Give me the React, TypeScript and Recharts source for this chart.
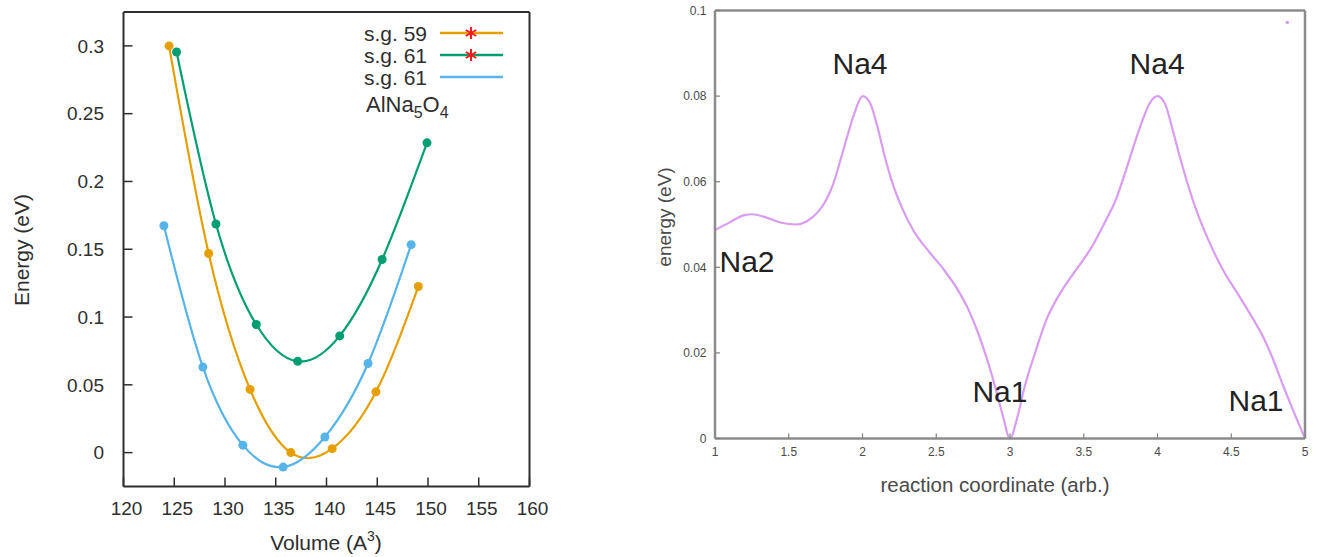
import React from 'react';
import { LineChart, Line, XAxis, YAxis, ReferenceDot } from 'recharts';

const FONT = '"Liberation Sans", Arial, Helvetica, sans-serif';

// ---------- Left panel: Energy vs Volume ----------
const volumeTicks = [120, 125, 130, 135, 140, 145, 150, 155, 160];
const energyTicks = [0, 0.05, 0.1, 0.15, 0.2, 0.25, 0.3];

const sg59Volume = [124.49, 128.39, 132.47, 136.48, 140.56, 144.87, 149.05];
const sg59Energy = [0.3, 0.1469, 0.0466, 0.0, 0.0029, 0.0448, 0.1225];

const sg61StarVolume = [125.23, 129.11, 133.08, 137.16, 141.3, 145.48, 149.9];
const sg61StarEnergy = [0.2955, 0.1686, 0.0945, 0.0673, 0.0861, 0.1424, 0.2285];

const sg61Volume = [123.98, 127.82, 131.76, 135.73, 139.84, 144.09, 148.34];
const sg61Energy = [0.1673, 0.0631, 0.0055, -0.0107, 0.0115, 0.0657, 0.1534];

const seriesNames = ['s.g. 59', 's.g. 61', 's.g. 61'];
const seriesColors = ['#E69F00', '#009E73', '#56B4E9'];
const seriesStar = [true, true, false];

// ---------- Right panel: energy vs reaction coordinate ----------
const reactionTicks = [1, 1.5, 2, 2.5, 3, 3.5, 4, 4.5, 5];
const reactionEnergyTicks = [0, 0.02, 0.04, 0.06, 0.08, 0.1];

const reactionCoord = [
  1.0, 1.1, 1.2, 1.25, 1.35, 1.45, 1.55, 1.62, 1.7, 1.75, 1.8, 1.85, 1.9, 1.95, 2.0,
  2.05, 2.1, 2.15, 2.2, 2.27, 2.35, 2.45, 2.55, 2.65, 2.72, 2.78, 2.84, 2.9, 2.95, 3.0,
  3.05, 3.1, 3.17, 3.25, 3.35, 3.45, 3.55, 3.65, 3.72, 3.78, 3.84, 3.9, 3.95, 4.0,
  4.05, 4.1, 4.15, 4.2, 4.27, 4.35, 4.45, 4.55, 4.65, 4.72, 4.78, 4.85, 4.92, 5.0,
];
const reactionEnergy = [
  0.0487, 0.0505, 0.0522, 0.0524, 0.0516, 0.0504, 0.05, 0.0507, 0.053, 0.0555, 0.0593, 0.065, 0.071, 0.0765, 0.08,
  0.0785, 0.073, 0.066, 0.06, 0.0537, 0.0483, 0.0437, 0.0395, 0.0345, 0.03, 0.025, 0.019, 0.012, 0.0055, 0.0,
  0.005, 0.0122, 0.02, 0.028, 0.0345, 0.0395, 0.0445, 0.051, 0.056, 0.062, 0.0685, 0.0745, 0.0785, 0.08,
  0.0783, 0.0725, 0.066, 0.06, 0.0527, 0.046, 0.039, 0.0335, 0.0278, 0.0235, 0.0188, 0.0125, 0.0065, 0.0,
];

const siteLabels = ['Na4', 'Na4', 'Na2', 'Na1', 'Na1'];
const siteLabelX = [1.983, 3.997, 1.217, 2.932, 4.668];
const siteLabelY = [0.0876, 0.0876, 0.0415, 0.0111, 0.009];

const keySpeck = { x: 4.88, y: 0.0972 };

const toPoints = (xs: number[], ys: number[]) => xs.map((x, i) => ({ x, y: ys[i] }));

const leftSeries = [
  toPoints(sg59Volume, sg59Energy),
  toPoints(sg61StarVolume, sg61StarEnergy),
  toPoints(sg61Volume, sg61Energy),
];
const reactionData = toPoints(reactionCoord, reactionEnergy);

const LEFT_INK = '#2e2e2e';
const RIGHT_FRAME = '#8c8c8c';
const RIGHT_TEXT = '#4a4a4a';
const CURVE = '#d99cf2';

function Star({ cx, cy }: { cx: number; cy: number }) {
  const r = 6;
  const a = r * Math.cos(Math.PI / 6);
  const b = r * Math.sin(Math.PI / 6);
  return (
    <path
      d={`M${cx} ${cy - r}L${cx} ${cy + r}M${cx - a} ${cy - b}L${cx + a} ${cy + b}M${cx - a} ${cy + b}L${cx + a} ${cy - b}`}
      stroke="#ff1a1a"
      strokeWidth={2}
      fill="none"
    />
  );
}

export default function App() {
  const leftAxisLine = { stroke: LEFT_INK, strokeWidth: 2 };
  const leftTickLine = { stroke: LEFT_INK, strokeWidth: 1.5 };
  const leftTickX = { fontFamily: FONT, fontSize: 19, fill: LEFT_INK, dx: 3 };
  const leftTickY = { fontFamily: FONT, fontSize: 19, fill: LEFT_INK };

  const rightAxisLine = { stroke: RIGHT_FRAME, strokeWidth: 2.5 };
  const rightTickLine = { stroke: '#808080', strokeWidth: 1.2 };
  const rightTick = { fontFamily: FONT, fontSize: 12, fill: RIGHT_TEXT };

  return (
    <div style={{ position: 'absolute', left: 0, top: 0, width: 1322, height: 557, background: '#fff', fontFamily: FONT }}>
      <div style={{ position: 'absolute', left: 0, top: 0 }}>
        <LineChart width={570} height={557} margin={{ top: 11, right: 39.5, bottom: 69.5, left: 122.5 }}>
          <XAxis
            xAxisId="b"
            dataKey="x"
            type="number"
            domain={[120, 160]}
            ticks={volumeTicks}
            interval={0}
            allowDataOverflow
            height={1}
            tickSize={-9}
            tickMargin={24}
            axisLine={leftAxisLine}
            tickLine={leftTickLine}
            tick={leftTickX}
          />
          <XAxis
            xAxisId="t"
            orientation="top"
            dataKey="x"
            type="number"
            domain={[120, 160]}
            ticks={volumeTicks}
            interval={0}
            allowDataOverflow
            height={1}
            tickSize={-9}
            axisLine={leftAxisLine}
            tickLine={leftTickLine}
            tick={false}
          />
          <YAxis
            yAxisId="l"
            type="number"
            domain={[-0.025, 0.325]}
            ticks={energyTicks}
            interval={0}
            allowDataOverflow
            width={1}
            tickSize={-9}
            tickMargin={28.5}
            axisLine={leftAxisLine}
            tickLine={leftTickLine}
            tick={leftTickY}
          />
          <YAxis
            yAxisId="r"
            orientation="right"
            type="number"
            domain={[-0.025, 0.325]}
            ticks={energyTicks}
            interval={0}
            allowDataOverflow
            width={1}
            tickSize={-9}
            axisLine={leftAxisLine}
            tickLine={leftTickLine}
            tick={false}
          />
          {leftSeries.map((data, i) => (
            <Line
              key={i}
              xAxisId="b"
              yAxisId="l"
              data={data}
              dataKey="y"
              type="natural"
              stroke={seriesColors[i]}
              strokeWidth={2.2}
              dot={{ r: 4.5, fill: seriesColors[i], stroke: seriesColors[i], strokeWidth: 0 }}
              activeDot={false}
              isAnimationActive={false}
            />
          ))}
        </LineChart>
      </div>

      <div style={{ position: 'absolute', left: 660, top: 0 }}>
        <LineChart width={662} height={557} margin={{ top: 9.5, right: 16, bottom: 117.5, left: 54 }}>
          <XAxis
            xAxisId="b"
            dataKey="x"
            type="number"
            domain={[1, 5]}
            ticks={reactionTicks}
            interval={0}
            allowDataOverflow
            height={1}
            tickSize={-5}
            tickMargin={14}
            axisLine={rightAxisLine}
            tickLine={rightTickLine}
            tick={rightTick}
          />
          <XAxis
            xAxisId="t"
            orientation="top"
            dataKey="x"
            type="number"
            domain={[1, 5]}
            ticks={reactionTicks}
            interval={0}
            allowDataOverflow
            height={1}
            tickSize={-5}
            axisLine={rightAxisLine}
            tickLine={rightTickLine}
            tick={false}
          />
          <YAxis
            yAxisId="l"
            type="number"
            domain={[0, 0.1]}
            ticks={reactionEnergyTicks}
            interval={0}
            allowDataOverflow
            width={1}
            tickSize={-5}
            tickMargin={13.5}
            axisLine={rightAxisLine}
            tickLine={rightTickLine}
            tick={rightTick}
          />
          <YAxis
            yAxisId="r"
            orientation="right"
            type="number"
            domain={[0, 0.1]}
            ticks={reactionEnergyTicks}
            interval={0}
            allowDataOverflow
            width={1}
            tickSize={-5}
            axisLine={rightAxisLine}
            tickLine={rightTickLine}
            tick={false}
          />
          <Line
            xAxisId="b"
            yAxisId="l"
            data={reactionData}
            dataKey="y"
            type="monotone"
            stroke={CURVE}
            strokeWidth={2.2}
            dot={false}
            activeDot={false}
            isAnimationActive={false}
          />
          <ReferenceDot
            xAxisId="b"
            yAxisId="l"
            x={keySpeck.x}
            y={keySpeck.y}
            r={1.8}
            fill={CURVE}
            stroke="none"
          />
          {siteLabels.map((s, i) => (
            <ReferenceDot
              key={i}
              xAxisId="b"
              yAxisId="l"
              x={siteLabelX[i]}
              y={siteLabelY[i]}
              r={0}
              fill="none"
              stroke="none"
              ifOverflow="visible"
              label={{ value: s, position: 'center', fill: '#222', fontSize: 30, fontFamily: FONT }}
            />
          ))}
        </LineChart>
      </div>

      <svg width={1322} height={557} style={{ position: 'absolute', left: 0, top: 0, pointerEvents: 'none' }}>
        {/* left panel axis titles */}
        <text
          x={21}
          y={250}
          transform="rotate(-90 21 250)"
          textAnchor="middle"
          dominantBaseline="central"
          fontFamily={FONT}
          fontSize={21}
          fill={LEFT_INK}
        >
          Energy (eV)
        </text>
        <text x={326} y={550} textAnchor="middle" fontFamily={FONT} fontSize={21} fill={LEFT_INK}>
          <tspan>Volume (A</tspan>
          <tspan dy={-9} fontSize={14}>3</tspan>
          <tspan dy={9}>)</tspan>
        </text>

        {/* left panel key */}
        {seriesNames.map((name, i) => {
          const cy = 33 + i * 22;
          return (
            <g key={i}>
              <text x={427} y={cy + 7.5} textAnchor="end" fontFamily={FONT} fontSize={21} fill={LEFT_INK}>
                {name}
              </text>
              <line x1={440} x2={503} y1={cy} y2={cy} stroke={seriesColors[i]} strokeWidth={2.4} />
              {seriesStar[i] ? <Star cx={471} cy={cy} /> : null}
            </g>
          );
        })}
        <text x={366} y={112} fontFamily={FONT} fontSize={22} fill={LEFT_INK}>
          <tspan>AlNa</tspan>
          <tspan dy={6} fontSize={16}>5</tspan>
          <tspan dy={-6}>O</tspan>
          <tspan dy={6} fontSize={16}>4</tspan>
        </text>

        {/* right panel axis titles */}
        <text
          x={664}
          y={217}
          transform="rotate(-90 664 217)"
          textAnchor="middle"
          dominantBaseline="central"
          fontFamily={FONT}
          fontSize={19}
          fill={RIGHT_TEXT}
        >
          energy (eV)
        </text>
        <text x={995} y={492} textAnchor="middle" fontFamily={FONT} fontSize={20.5} fill={RIGHT_TEXT}>
          reaction coordinate (arb.)
        </text>
      </svg>
    </div>
  );
}
